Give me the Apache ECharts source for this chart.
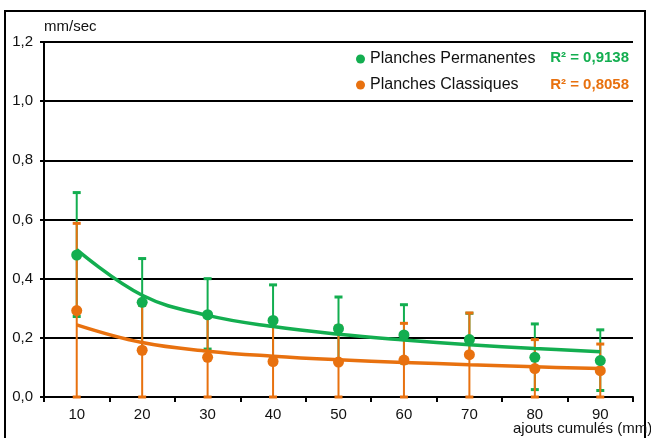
<!DOCTYPE html>
<html>
<head>
<meta charset="utf-8">
<script src="https://cdn.jsdelivr.net/npm/echarts@6/dist/echarts.min.js"></script>
<style>html,body{margin:0;padding:0;background:#fff;}#c{width:651px;height:438px;}</style>
</head>
<body>
<div id="c"></div>
<script>
var categories = ['10','20','30','40','50','60','70','80','90'];
var yTicks = [0, 0.2, 0.4, 0.6, 0.8, 1.0, 1.2];
var permMean  = [0.48, 0.32, 0.278, 0.259, 0.231, 0.21, 0.194, 0.134, 0.123];
var permHigh  = [0.691, 0.468, 0.400, 0.379, 0.338, 0.312, 0.283, 0.247, 0.227];
var permLow   = [0.272, 0.16, 0.162, 0.13, 0.12, 0.115, 0.14, 0.025, 0.022];
var permTrend = [0.498, 0.344, 0.276, 0.238, 0.212, 0.193, 0.177, 0.164, 0.153];
var clasMean  = [0.292, 0.158, 0.134, 0.12, 0.118, 0.125, 0.143, 0.096, 0.089];
var clasHigh  = [0.587, 0.31, 0.27, 0.25, 0.24, 0.249, 0.284, 0.194, 0.179];
var clasLow   = [0, 0, 0, 0, 0, 0, 0, 0, 0];
var clasTrend = [0.244, 0.184, 0.155, 0.138, 0.126, 0.117, 0.109, 0.102, 0.096];
var r2Perm = 'R² = 0,9138';
var r2Clas = 'R² = 0,8058';
var GREEN = '#13ae50';
var ORANGE = '#e8710f';
var FONT = '"Liberation Sans", Arial, sans-serif';

function errData(hi, lo) {
  return categories.map(function (c, i) { return [i, hi[i], lo[i]]; });
}
function errRender(color) {
  return function (params, api) {
    var top = api.coord([api.value(0), api.value(1)]);
    var bot = api.coord([api.value(0), api.value(2)]);
    var hw = 4;
    return {
      type: 'group',
      children: [
        { type: 'line', shape: { x1: top[0], y1: top[1], x2: bot[0], y2: bot[1] }, style: { stroke: color, lineWidth: 2 } },
        { type: 'line', shape: { x1: top[0] - hw, y1: top[1], x2: top[0] + hw, y2: top[1] }, style: { stroke: color, lineWidth: 3 } },
        { type: 'line', shape: { x1: bot[0] - hw, y1: bot[1], x2: bot[0] + hw, y2: bot[1] }, style: { stroke: color, lineWidth: 3 } }
      ]
    };
  };
}

var chart = echarts.init(document.getElementById('c'));
chart.setOption({
  animation: false,
  backgroundColor: '#ffffff',
  textStyle: { fontFamily: FONT },
  grid: { left: 44, right: 18, top: 42, bottom: 41 },
  xAxis: {
    type: 'category',
    data: categories,
    boundaryGap: true,
    axisLine: { lineStyle: { color: '#000', width: 2 } },
    axisTick: { show: true, length: 5, interval: 0, lineStyle: { color: '#000', width: 2 } },
    axisLabel: { color: '#111', fontSize: 15, margin: 10, fontFamily: FONT }
  },
  yAxis: {
    type: 'value',
    min: yTicks[0],
    max: yTicks[yTicks.length - 1],
    interval: 0.2,
    axisLine: { show: true, lineStyle: { color: '#000', width: 2 } },
    axisTick: { show: true, length: 4, lineStyle: { color: '#000', width: 2 } },
    splitLine: { lineStyle: { color: '#000', width: 2 } },
    axisLabel: {
      color: '#111', fontSize: 15, margin: 11, fontFamily: FONT,
      formatter: function (v) { return v.toFixed(1).replace('.', ','); }
    }
  },
  legend: {
    orient: 'vertical',
    left: 356,
    top: 51,
    padding: 0,
    itemGap: 10,
    itemWidth: 9,
    itemHeight: 9,
    icon: 'circle',
    textStyle: { color: '#111', fontSize: 16, lineHeight: 16, fontFamily: FONT },
    data: ['Planches Permanentes', 'Planches Classiques']
  },
  graphic: [
    { type: 'rect', z: -1, shape: { x: 5, y: 11, width: 640, height: 440 }, style: { fill: 'none', stroke: '#000', lineWidth: 2 } },
    { type: 'text', left: 44, top: 19, style: { text: 'mm/sec', fill: '#111', font: '15px ' + FONT } },
    { type: 'text', right: 22, top: 50, style: { text: r2Perm, fill: GREEN, font: 'bold 15px ' + FONT } },
    { type: 'text', right: 22, top: 77, style: { text: r2Clas, fill: ORANGE, font: 'bold 15px ' + FONT } },
    { type: 'text', left: 513, top: 421, style: { text: 'ajouts cumulés (mm)', fill: '#111', font: '15px ' + FONT } }
  ],
  series: [
    { type: 'custom', name: 'errPerm', renderItem: errRender(GREEN), data: errData(permHigh, permLow), z: 2, silent: true },
    { type: 'custom', name: 'errClas', renderItem: errRender(ORANGE), data: errData(clasHigh, clasLow), z: 3, silent: true },
    { type: 'line', name: 'trendClas', data: clasTrend, smooth: 0.4, symbol: 'none', lineStyle: { color: ORANGE, width: 3.5 }, z: 4 },
    { type: 'line', name: 'trendPerm', data: permTrend, smooth: 0.4, symbol: 'none', lineStyle: { color: GREEN, width: 3.5 }, z: 5 },
    { type: 'scatter', name: 'Planches Classiques', data: clasMean, symbol: 'circle', symbolSize: 11, itemStyle: { color: ORANGE, opacity: 1 }, z: 6 },
    { type: 'scatter', name: 'Planches Permanentes', data: permMean, symbol: 'circle', symbolSize: 11, itemStyle: { color: GREEN, opacity: 1 }, z: 7 }
  ]
});
</script>
</body>
</html>
